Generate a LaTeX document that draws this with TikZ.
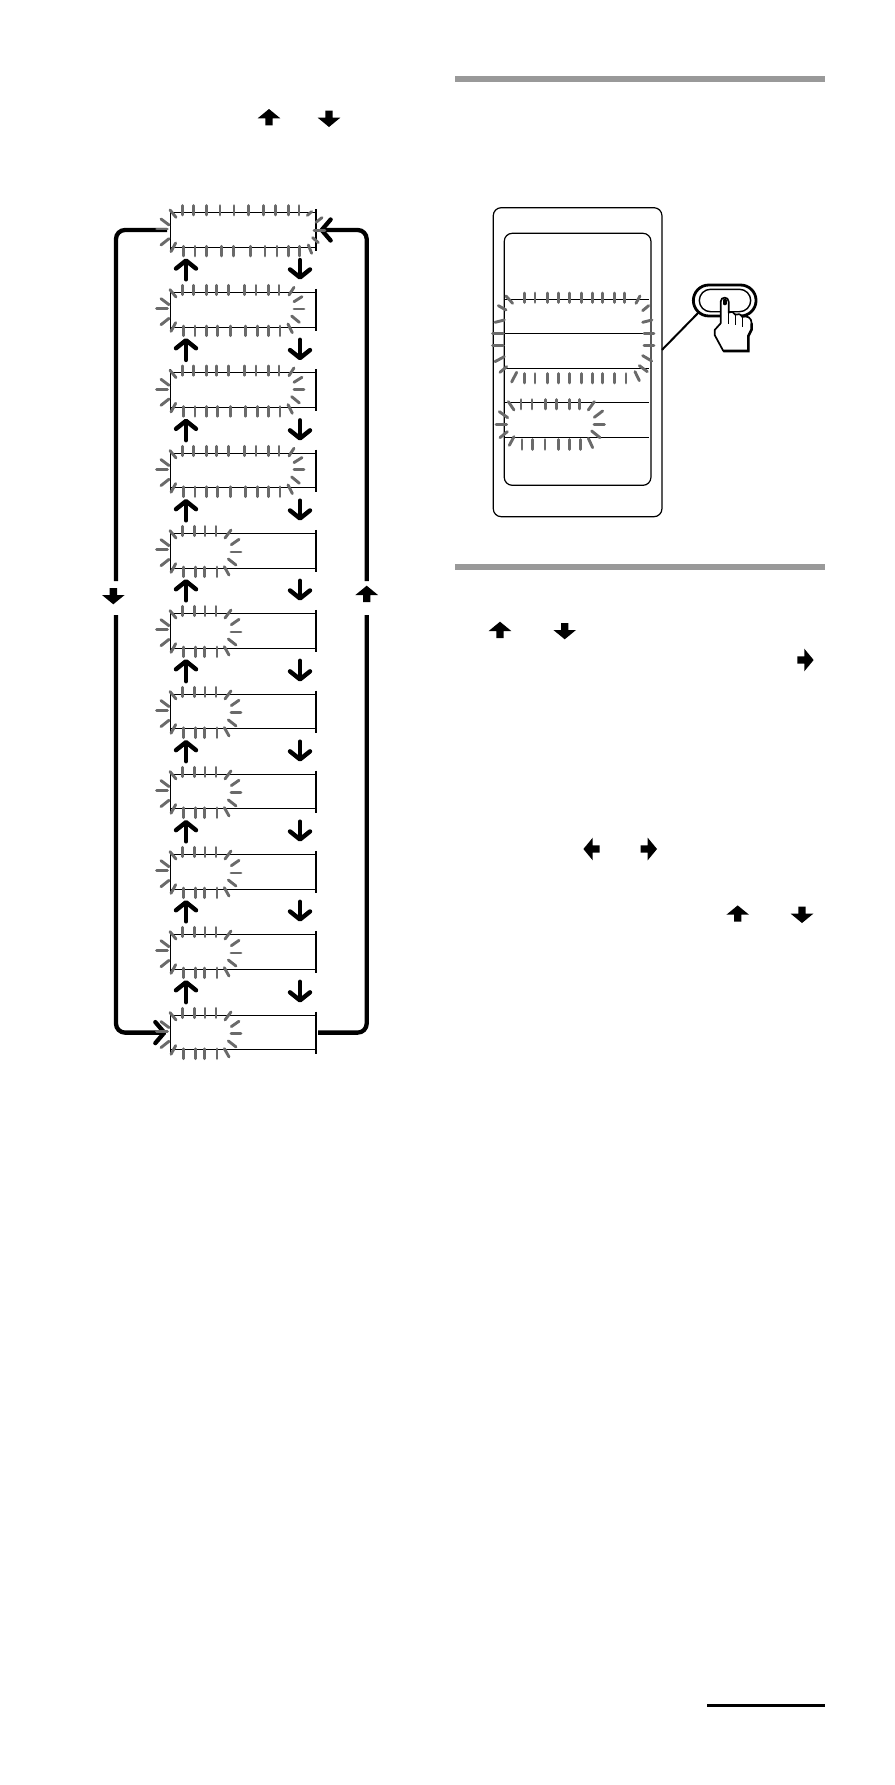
\documentclass[tikz,border=0pt]{standalone}
\usepackage{tikz}
\usetikzlibrary{arrows.meta,positioning,calc,shapes.misc}
\definecolor{barGray}{HTML}{999999}
\definecolor{glowGray}{HTML}{6A6A6A}
\tikzset{
  glow/.style={glowGray,line width=2.9pt,line cap=round},
  rowline/.style={line width=1pt},
  rowbar/.style={line width=1.6pt},
  rowbox/.style={minimum width=146pt,minimum height=34.7pt,inner sep=0pt,outer sep=0pt},
  stepup/.style={line width=4.4pt,line cap=round,-{Straight Barb[length=8pt,width=20pt,round]}},
  looplink/.style={line width=4.3pt,rounded corners=9pt},
  glowleft/.pic={
    \foreach \a/\b/\c/\d in {0/-8/18/14,-40/49/-8/49,-27/19/-3/37,-27/97/-3/78,3/117/17/91}
      \draw[glow] (\a,\b) -- (\c,\d);
  },
  glowlong/.pic={
    \foreach \x in {37,70,110,150,192,235,280,316,355,387} \draw[glow] (\x,-21) -- (\x,7);
    \foreach \x in {41,75,110,155,190,241,285,321,355,389} \draw[glow] (\x,101) -- (\x,130);
    \foreach \a/\b/\c/\d in {412/8/425/-3,438/29/456/15,432/54/465/54,428/75/445/90,415/97/425/122}
      \draw[glow] (\a,\b) -- (\c,\d);
  },
  glowmid/.pic={
    \foreach \x in {37,70,110,140,176,223,258,296,327} \draw[glow] (\x,-21) -- (\x,7);
    \foreach \x in {41,75,110,142,181,226,263,295,330} \draw[glow] (\x,101) -- (\x,130);
    \foreach \a/\b/\c/\d in {357/8/372/-15,372/28/396/13,372/50/402/50,365/71/388/90,354/95/367/121}
      \draw[glow] (\a,\b) -- (\c,\d);
  },
  glowshort/.pic={
    \foreach \x in {37,73,105,138} \draw[glow] (\x,-21) -- (\x,7);
    \foreach \x in {41,77,104,141} \draw[glow] (\x,101) -- (\x,130);
    \foreach \a/\b/\c/\d in {165/14/183/-10,184/34/207/18,183/56/213/56,175/77/198/95,163/100/177/125}
      \draw[glow] (\a,\b) -- (\c,\d);
  },
  blockup/.pic={
    \fill (0,-8.3) -- (11.3,1) -- (3.7,1) -- (3.7,8) -- (-3.7,8) -- (-3.7,1) -- (-11.3,1) -- cycle;
  }
}
\begin{document}
\begin{tikzpicture}[x=1pt,y=-1pt]
  \useasboundingbox (0,0) rectangle (894,1785);

  % header bars and foot line
  \fill[barGray] (455,76) rectangle (825,82);
  \fill[barGray] (455,564) rectangle (825,570);
  \fill (707,1703.7) rectangle (825,1707);

  % rows
  \foreach \n/\y in {1/230,2/309.7,3/390.3,4/470.6,5/550.7,6/630.7,7/711.6,8/791.6,9/871.7,10/951.7,11/1032.6}{
    \node[rowbox] (r\n) at (243,\y) {};
    \draw[rowline] (r\n.north west) -- (r\n.north east);
    \draw[rowline] (r\n.south west) -- (r\n.south east);
    \draw[rowline] ([yshift=3.6pt]r\n.north west) -- ([yshift=-3.6pt]r\n.south west);
    \draw[rowbar] ([yshift=3.6pt]r\n.north east) -- ([yshift=-3.6pt]r\n.south east);
  }

  % steps between the rows
  \foreach \n/\m in {1/2,2/3,3/4,4/5,5/6,6/7,7/8,8/9,9/10,10/11}{
    \draw[stepup] ([xshift=16pt,yshift=13pt]r\m.north west) -- ([xshift=16pt,yshift=-11pt]r\n.south west);
    \draw[stepup] ([xshift=-16pt,yshift=-12.7pt]r\n.south east) -- ([xshift=-16pt,yshift=12.7pt]r\m.north east);
  }

  % outer loop
  \coordinate (leftTop) at (116,581);
  \coordinate (leftBot) at (116,615);
  \coordinate (rightTop) at (366.7,581);
  \coordinate (rightBot) at (366.7,615);
  \draw[looplink] ([xshift=-3pt]r1.west) -| (leftTop);
  \draw[looplink,-{Straight Barb[length=9pt,width=21pt,round]}] (leftBot) |- ([xshift=-3.5pt]r11.west);
  \draw[looplink] ([xshift=2pt]r11.east) -| (rightBot);
  \draw[looplink,-{Straight Barb[length=9pt,width=21pt,round]}] (rightTop) |- ([xshift=3.5pt]r1.east);

  % flashing marks of the rows
  \foreach \n in {1,...,11} \pic[scale=.3333] at (r\n.north west) {glowleft};
  \pic[scale=.3333] at (r1.north west) {glowlong};
  \foreach \n in {2,3,4} \pic[scale=.3333] at (r\n.north west) {glowmid};
  \foreach \n in {5,...,11} \pic[scale=.3333] at (r\n.north west) {glowshort};

  % block arrows
  \pic at (269,117.3) {blockup};
  \pic[rotate=180] at (329,118.7) {blockup};
  \pic[rotate=180] at (113.3,596) {blockup};
  \pic at (366.7,594) {blockup};
  \pic at (500,630) {blockup};
  \pic[rotate=180] at (564.7,631) {blockup};
  \pic[rotate=-90] at (805.3,660) {blockup};
  \pic[rotate=90] at (591.7,849) {blockup};
  \pic[rotate=-90] at (648.7,849) {blockup};
  \pic at (737.7,913.7) {blockup};
  \pic[rotate=180] at (802,914.7) {blockup};

  % remote panel
  \node[rowbox,draw,line width=1.2pt,rounded corners=8pt,minimum width=168.7pt,minimum height=309pt] (panel) at (577.6,362.2) {};
  \node[rowbox,draw,line width=1.2pt,rounded corners=8pt,minimum width=146.7pt,minimum height=252pt] (screen) at (577.6,359.3) {};
  \foreach \y in {299,333.3,368.7,402.3,437.3}
    \draw[rowline] (505,\y) -- (649,\y);

  \begin{scope}[shift={(470,190)},scale=.3333]
    \foreach \x in {163,195,232,266,298,334,368,398,434,464} \draw[glow] (\x,309) -- (\x,337);
    \foreach \x in {163,195,232,266,298,334,368,398,434,468} \draw[glow] (\x,551) -- (\x,579);
    \foreach \a/\b/\c/\d in {108/318/128/340,498/340/510/318,85/347/108/360,518/362/536/347,
        75/397/103/390,518/397/546/390,68/430/100/430,522/430/552/430,68/466/100/466,522/466/552/466,
        75/515/103/500,518/497/545/513,90/547/110/530,508/527/532/545,125/576/140/547,495/545/508/572}
      \draw[glow] (\a,\b) -- (\c,\d);
    \foreach \x in {153,186,227,259,298,328} \draw[glow] (\x,629) -- (\x,657);
    \foreach \x in {156,188,225,265,298,331} \draw[glow] (\x,749) -- (\x,778);
    \foreach \a/\b/\c/\d in {115/635/132/660,355/660/373/635,373/682/398/663,88/665/113/683,
        78/703/110/703,372/703/403/703,90/743/112/725,365/723/390/743,118/766/132/740,355/745/368/773}
      \draw[glow] (\a,\b) -- (\c,\d);
  \end{scope}

  % button and hand
  \node[rounded rectangle,draw,line width=2.8pt,minimum width=62.7pt,minimum height=31pt,inner sep=0pt,outer sep=0pt] (btn) at (724.7,300.5) {};
  \node[rounded rectangle,draw,line width=1.4pt,minimum width=51.4pt,minimum height=22.4pt,inner sep=0pt,outer sep=0pt] (btnIn) at (725,300.5) {};
  \draw[line width=2pt] ([yshift=12.3pt]panel.east) -- ([xshift=5pt,yshift=-12.2pt]btn.west);
  \begin{scope}[shift={(680,270)},scale=.3333]
    \draw[fill=white,line width=1.7pt,line join=round]
      (122,160) -- (122,95) .. controls (122,79) and (146,79) .. (146,95) -- (146,128)
      .. controls (155,124) and (162,126) .. (166,134) .. controls (174,130) and (182,132) .. (187,141)
      .. controls (200,136) and (215,142) .. (215,160) -- (215,178) -- (205,198) -- (205,243)
      -- (130,243) -- (104,195) -- (104,180) -- cycle;
    \draw[line width=2.6pt] (130,243) -- (205,243) -- (205,198) -- (215,178) -- (215,160);
    \draw[line width=4pt,line cap=round] (134,92) -- (134,100);
    \draw[line width=1.1pt] (146,128) -- (146,162);
    \draw[line width=1.1pt] (166,134) -- (166,165);
    \draw[line width=1.1pt] (187,141) -- (187,170);
  \end{scope}
\end{tikzpicture}
\end{document}
